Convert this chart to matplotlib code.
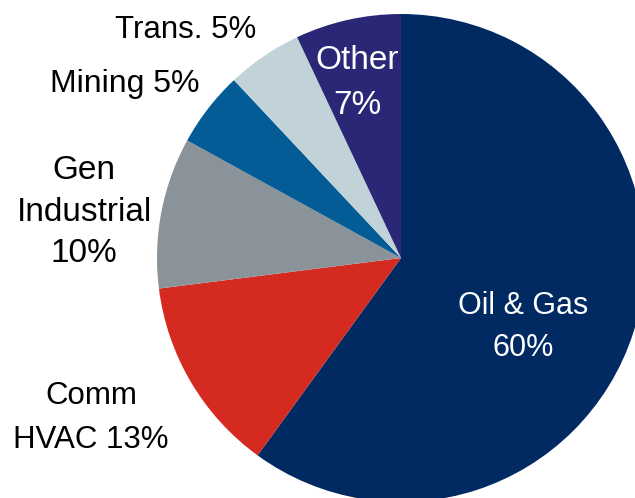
import matplotlib.pyplot as plt

# Revenue mix by end market
segments = ["Oil & Gas", "Comm HVAC", "Gen Industrial", "Mining", "Trans.", "Other"]
shares = [60, 13, 10, 5, 5, 7]
labels = ["Oil & Gas\n60%", "Comm\nHVAC 13%", "Gen\nIndustrial\n10%",
          "Mining 5%", "Trans. 5%", "Other\n7%"]

colors = ["#012a62", "#d42a20", "#8a9399", "#045c97", "#c1d3d8", "#2b2777"]
text_colors = ["white", "black", "black", "black", "black", "white"]

W, H = 635, 498
fig = plt.figure(figsize=(W / 100, H / 100), dpi=100)
ax = fig.add_axes([0, 0, 1, 1])

ax.pie(shares, colors=colors, startangle=90, counterclock=False,
       center=(401, H - 258), radius=244,
       wedgeprops=dict(linewidth=0, antialiased=True))
ax.set_xlim(0, W)
ax.set_ylim(0, H)
ax.set_aspect("equal")
ax.axis("off")

family = ["Liberation Sans", "DejaVu Sans"]

# label layout: anchor (x from left, y from top), size, line spacing
layout = [
    ((523, 327), 22, 1.52),
    ((91, 418), 22.5, 1.6),
    ((84, 212), 24, 1.43),
    ((125, 84), 23, 1.2),
    ((186, 30), 22.5, 1.2),
    ((357, 83), 24, 1.55),
]
for text, color, ((x, y), size, ls) in zip(labels, text_colors, layout):
    ax.text(x, H - y, text, color=color, ha="center", va="center",
            multialignment="center", fontsize=size, linespacing=ls,
            family=family)

fig.savefig("out.png", dpi=100)
